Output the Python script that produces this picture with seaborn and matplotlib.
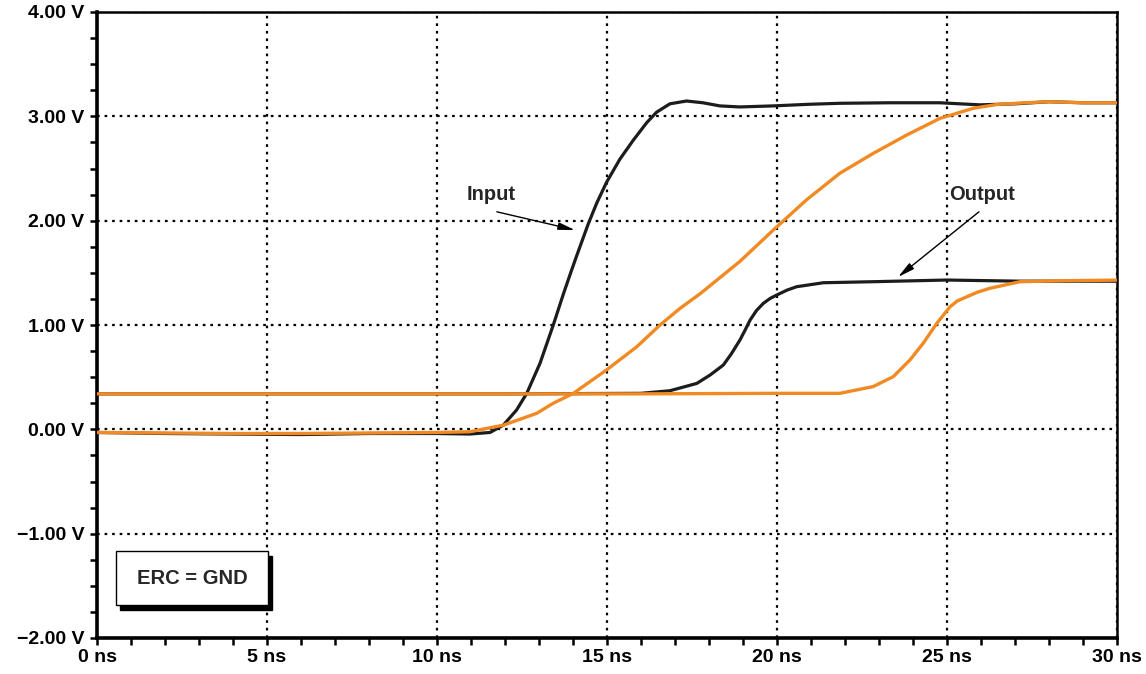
import matplotlib
matplotlib.use("Agg")
import matplotlib.pyplot as plt
import matplotlib.patches as mpatches
from matplotlib.ticker import MultipleLocator, FuncFormatter
import seaborn as sns
import pandas as pd

# ---- data (time in ns, voltage in V) ----
in_black_t = [0, 2, 4, 6, 8, 10, 10.97, 11.56, 11.95, 12.34, 12.64, 13.03, 13.42, 13.72, 13.96,
              14.11, 14.45, 14.7, 14.99, 15.38, 15.77, 16.17, 16.46, 16.85, 17.34, 17.82, 18.32,
              18.9, 19.89, 20.9, 21.85, 23.3, 24.79, 25.97, 27.0, 28.0, 29.0, 30.0]
in_black_v = [-0.03, -0.04, -0.045, -0.05, -0.04, -0.04, -0.045, -0.03, 0.04, 0.185, 0.345, 0.633, 1.0, 1.30, 1.527,
              1.665, 1.97, 2.17, 2.37, 2.59, 2.77, 2.94, 3.04, 3.12, 3.147, 3.13, 3.10,
              3.09, 3.10, 3.115, 3.125, 3.13, 3.13, 3.11, 3.12, 3.14, 3.13, 3.13]

in_orange_t = [0, 2, 4, 6, 8, 10, 10.97, 11.95, 12.93, 13.42, 14.01, 14.99, 15.87, 16.56, 17.15,
               17.74, 18.42, 18.91, 19.89, 20.87, 21.85, 22.83, 23.81, 24.79, 25.77,
               26.5, 27.3, 28.0, 29.0, 30.0]
in_orange_v = [-0.03, -0.035, -0.04, -0.04, -0.035, -0.03, -0.023, 0.04, 0.153, 0.25, 0.345, 0.57, 0.79, 1.0, 1.16,
               1.30, 1.48, 1.61, 1.91, 2.20, 2.455, 2.645, 2.82, 2.98, 3.077,
               3.115, 3.13, 3.14, 3.13, 3.13]

out_black_t = [0, 4, 8, 12, 16.0, 16.85, 17.64, 18.03, 18.42, 18.65, 18.91, 19.06, 19.21, 19.4, 19.6,
               19.8, 19.99, 20.3, 20.58, 21.36, 22.83, 24.99, 27.15, 28.5, 30.0]
out_black_v = [0.34, 0.34, 0.34, 0.34, 0.345, 0.37, 0.44, 0.52, 0.616, 0.72, 0.856, 0.95, 1.048, 1.14, 1.208,
               1.255, 1.287, 1.335, 1.367, 1.405, 1.415, 1.431, 1.42, 1.42, 1.42]

out_orange_t = [0, 4, 8, 12, 16, 20, 21.85, 22.83, 23.42, 23.91, 24.3, 24.7, 25.09, 25.3, 25.58, 25.9, 26.26,
                27.15, 28.5, 30.0]
out_orange_v = [0.34, 0.34, 0.34, 0.34, 0.34, 0.345, 0.345, 0.41, 0.505, 0.665, 0.825, 1.016, 1.175, 1.23, 1.27, 1.315, 1.352,
                1.415, 1.425, 1.43]

x_ticks = [0, 5, 10, 15, 20, 25, 30]
y_ticks = [-2, -1, 0, 1, 2, 3, 4]

BLACK = "#1c1c1c"
ORANGE = "#f28a24"

sns.set_style("ticks")
plt.rcParams["font.family"] = ["Liberation Sans", "DejaVu Sans"]
plt.rcParams["font.weight"] = "bold"
plt.rcParams["lines.solid_joinstyle"] = "round"
plt.rcParams["lines.solid_capstyle"] = "round"

fig = plt.figure(figsize=(11.46, 6.74), dpi=100)
ax = fig.add_axes([97 / 1146, 1 - 638 / 674, 1020 / 1146, 626 / 674])

series = [
    (in_black_t, in_black_v, BLACK, 2.3),
    (out_black_t, out_black_v, BLACK, 2.3),
    (in_orange_t, in_orange_v, ORANGE, 2.4),
    (out_orange_t, out_orange_v, ORANGE, 2.4),
]
for t, v, c, lw in series:
    df = pd.DataFrame({"t": t, "v": v})
    sns.lineplot(data=df, x="t", y="v", ax=ax, color=c, linewidth=lw, zorder=3, sort=False)

ax.set_xlim(0, 30)
ax.set_ylim(-2, 4)
ax.set_xticks(x_ticks)
ax.set_yticks(y_ticks)
ax.xaxis.set_minor_locator(MultipleLocator(1))
ax.yaxis.set_minor_locator(MultipleLocator(0.25))
ax.xaxis.set_major_formatter(FuncFormatter(lambda x, p: f"{x:.0f} ns"))
ax.yaxis.set_major_formatter(FuncFormatter(lambda y, p: f"{y:.2f} V".replace("-", "\u2212")))
ax.set_xlabel("")
ax.set_ylabel("")

ax.grid(True, which="major", color="black", linestyle=(0, (1.2, 2.2)), linewidth=1.6, zorder=1)
ax.tick_params(axis="both", which="both", direction="out", length=5, width=1.8, colors="black",
               labelsize=14)
ax.tick_params(axis="x", pad=3)
ax.tick_params(axis="y", pad=4)
for lbl in ax.get_xticklabels() + ax.get_yticklabels():
    lbl.set_fontweight("bold")

for side in ["left", "bottom"]:
    ax.spines[side].set_linewidth(2.6)
    ax.spines[side].set_color("black")
for side in ["top", "right"]:
    ax.spines[side].set_linewidth(1.8)
    ax.spines[side].set_color("black")
    ax.spines[side].set_visible(True)

# annotations
ax.annotate("", xy=(14.06, 1.91), xytext=(11.76, 2.085),
            arrowprops=dict(arrowstyle="-|>,head_length=1.0,head_width=0.22", color="black", lw=1.0,
                            shrinkA=0, shrinkB=0), zorder=5)
ax.text(11.59, 2.25, "Input", ha="center", va="center", fontsize=14.5, fontweight="bold", zorder=5)
ax.annotate("", xy=(23.56, 1.46), xytext=(25.94, 2.085),
            arrowprops=dict(arrowstyle="-|>,head_length=1.0,head_width=0.22", color="black", lw=1.0,
                            shrinkA=0, shrinkB=0), zorder=5)
ax.text(26.03, 2.25, "Output", ha="center", va="center", fontsize=14.5, fontweight="bold", zorder=5)

# ERC = GND box with shadow
bx0, bx1 = (116 - 97) / 1020, (268 - 97) / 1020
by1, by0 = (638 - 551) / 626, (638 - 605) / 626
dx, dy = 4 / 1020, 5 / 626
ax.add_patch(mpatches.Rectangle((bx0 + dx, by0 - dy), bx1 - bx0, by1 - by0, transform=ax.transAxes,
                                facecolor="black", edgecolor="black", zorder=6))
ax.add_patch(mpatches.Rectangle((bx0, by0), bx1 - bx0, by1 - by0, transform=ax.transAxes,
                                facecolor="white", edgecolor="black", linewidth=1.0, zorder=7))
ax.text((bx0 + bx1) / 2, (by0 + by1) / 2, "ERC = GND", transform=ax.transAxes, ha="center", va="center",
        fontsize=14.5, fontweight="bold", zorder=8)

fig.savefig("out.png", dpi=100)
